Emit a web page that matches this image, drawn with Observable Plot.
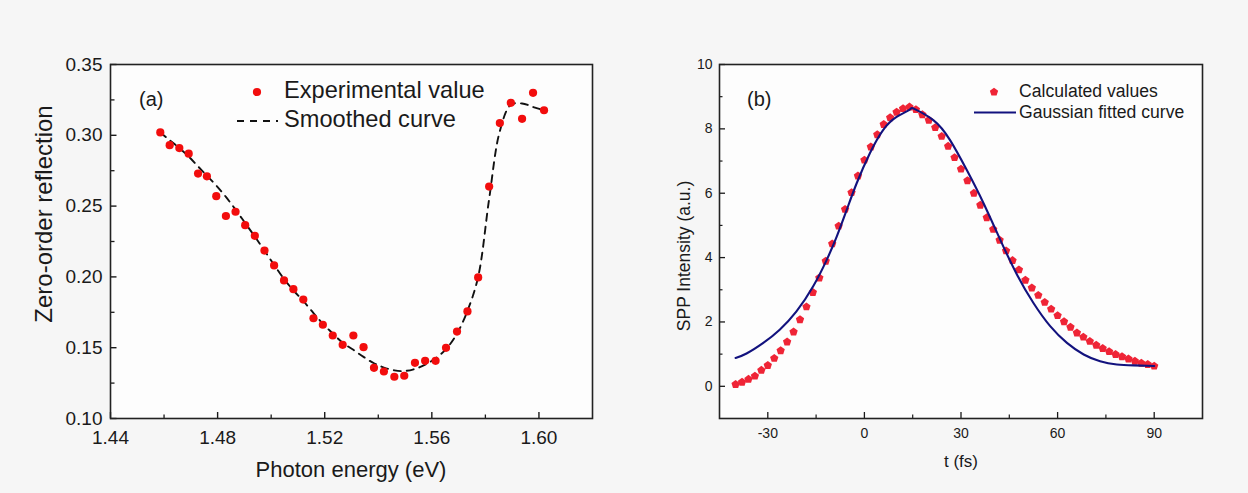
<!DOCTYPE html>
<html><head><meta charset="utf-8">
<script src="https://cdn.jsdelivr.net/npm/d3@7"></script>
<script src="https://cdn.jsdelivr.net/npm/@observablehq/plot@0.6"></script>
<style>
html,body{margin:0;padding:0;background:#f6f6f6;}
#wrap{position:relative;width:1248px;height:493px;overflow:hidden;}
#wrap > div{position:absolute;top:0;}
</style></head><body>
<div id="wrap"><div id="pa" style="left:0"></div><div id="pb" style="left:624px"></div></div>
<script>
// ---------- Panel (a) data ----------
const energy = [1.4586,1.4621,1.4657,1.4692,1.4727,1.4760,1.4795,1.4831,1.4867,1.4903,1.4939,1.4975,1.5011,1.5048,1.5083,1.5120,1.5158,1.5193,1.5230,1.5267,1.5307,1.5345,1.5384,1.5421,1.5460,1.5497,1.5537,1.5575,1.5614,1.5653,1.5694,1.5733,1.5773,1.5814,1.5854,1.5895,1.5937,1.5978,1.6019];
const reflection = [0.302,0.293,0.291,0.287,0.273,0.271,0.257,0.243,0.246,0.2365,0.229,0.2186,0.2081,0.1975,0.1913,0.1840,0.1708,0.1662,0.1586,0.152,0.1586,0.1504,0.1358,0.1332,0.1295,0.1302,0.1393,0.1407,0.1407,0.1499,0.1614,0.1756,0.1996,0.2638,0.3086,0.3229,0.3116,0.330,0.3177];
const smoothed = [0.302,0.2965,0.291,0.285,0.278,0.2715,0.2645,0.2565,0.2475,0.238,0.2285,0.2185,0.2085,0.1985,0.1905,0.1830,0.1745,0.1670,0.1600,0.1535,0.1485,0.1435,0.1390,0.1360,0.1340,0.1335,0.1350,0.1380,0.1425,0.1490,0.1600,0.1760,0.2000,0.2550,0.3030,0.3215,0.3225,0.3200,0.3177];
const xMajorA = [1.44,1.48,1.52,1.56,1.60];
const xMinorA = [1.46,1.50,1.54,1.58];
const yMajorA = [0.10,0.15,0.20,0.25,0.30,0.35];
const yMinorA = [0.125,0.175,0.225,0.275,0.325];

// ---------- Panel (b) data ----------
const tFs = [-40,-38,-36,-34,-32,-30,-28,-26,-24,-22,-20,-18,-16,-14,-12,-10,-8,-6,-4,-2,0,2,4,6,8,10,12,14,16,18,20,22,24,26,28,30,32,34,36,38,40,42,44,46,48,50,52,54,56,58,60,62,64,66,68,70,72,74,76,78,80,82,84,86,88,90];
const sppIntensity = [0.06,0.13,0.22,0.32,0.50,0.65,0.87,1.11,1.38,1.69,2.07,2.47,2.92,3.37,3.89,4.43,4.98,5.50,6.02,6.54,7.03,7.44,7.82,8.14,8.35,8.52,8.63,8.68,8.60,8.44,8.27,8.04,7.77,7.46,7.11,6.75,6.39,6.00,5.63,5.24,4.88,4.54,4.21,3.91,3.62,3.30,3.06,2.83,2.61,2.40,2.20,2.01,1.84,1.66,1.53,1.40,1.28,1.18,1.08,0.99,0.92,0.85,0.78,0.72,0.68,0.63];
const fitT = [-40,-36.6,-31.4,-26.3,-21.1,-15.9,-11.7,-8.6,-5.5,-2.4,1.7,5.8,10,14.1,15.5,21.4,26.6,31.8,37,42.2,47.4,52.5,57.7,62.9,68.1,73.2,78.4,83.6,90];
const fitIntensity = [0.88,1.02,1.35,1.76,2.33,3.11,3.93,4.65,5.48,6.31,7.24,7.96,8.37,8.60,8.62,8.27,7.65,6.72,5.69,4.55,3.47,2.59,1.87,1.35,0.99,0.78,0.68,0.65,0.63];
const xMajorB = [-30,0,30,60,90];
const xMinorB = [-15,15,45,75];
const yMajorB = [0,2,4,6,8,10];
const yMinorB = [1,3,5,7,9];

const FONT = "'Liberation Sans', Arial, Helvetica, sans-serif";
const RED_A = "#f20d0d";
const RED_B = "#ef2436";
const NAVY = "#12127e";
const INK = "#1a1a1a";

const pentagon = {
  draw(ctx, size) {
    const r = Math.sqrt(size / 2.378);
    for (let i = 0; i < 5; i++) {
      const a = -Math.PI / 2 + i * 2 * Math.PI / 5;
      const x = r * Math.cos(a), y = r * Math.sin(a);
      if (i) ctx.lineTo(x, y); else ctx.moveTo(x, y);
    }
    ctx.closePath();
  }
};

function overlay(build) {
  return () => {
    const g = d3.create("svg:g");
    g.attr("font-family", FONT).attr("fill", INK).attr("text-anchor", "start");
    build(g);
    return g.node();
  };
}

const dataA = energy.map((e, i) => ({e, r: reflection[i], s: smoothed[i]}));
const dataB = tFs.map((t, i) => ({t, v: sppIntensity[i]}));
const fitB = fitT.map((t, i) => ({t, v: fitIntensity[i]}));

// ---------- Panel (a) ----------
const plotA = Plot.plot({
  width: 624, height: 493,
  marginLeft: 110, marginRight: 32, marginTop: 64, marginBottom: 75,
  x: {domain: [1.44, 1.62]},
  y: {domain: [0.10, 0.35]},
  style: {fontFamily: FONT, background: "transparent", overflow: "visible", color: INK},
  marks: [
    Plot.frame({fill: "#fdfdfd", stroke: null}),
    Plot.line(dataA, {x: "e", y: "s", stroke: "#111", strokeWidth: 1.9, strokeDasharray: "7,6", curve: "catmull-rom"}),
    Plot.dot(dataA, {x: "e", y: "r", r: 4.1, fill: RED_A, stroke: null}),
    Plot.axisX(xMajorA, {anchor: "bottom", tickSize: -6, tickFormat: () => "", label: null, strokeWidth: 1.4}),
    Plot.axisX(xMinorA, {anchor: "bottom", tickSize: -3.5, tickFormat: () => "", label: null, strokeWidth: 1.3}),
    Plot.axisX(xMajorA, {anchor: "bottom", tickSize: 0, tickPadding: 12, tickFormat: d => d.toFixed(2), fontSize: 19, label: null}),
    Plot.axisY(yMajorA, {anchor: "left", tickSize: -6.5, tickFormat: () => "", label: null, strokeWidth: 1.4}),
    Plot.axisY(yMinorA, {anchor: "left", tickSize: -4.5, tickFormat: () => "", label: null, strokeWidth: 1.3}),
    Plot.axisY(yMajorA, {anchor: "left", tickSize: 0, tickPadding: 8, tickFormat: d => d.toFixed(2), fontSize: 19, label: null}),
    Plot.frame({stroke: "#222", strokeWidth: 1.6}),
    overlay(g => {
      g.append("text").attr("x", 351).attr("y", 477).attr("text-anchor", "middle").attr("font-size", 22).text("Photon energy (eV)");
      g.append("text").attr("transform", "translate(52,214) rotate(-90)").attr("text-anchor", "middle").attr("font-size", 24).text("Zero-order reflection");
      g.append("text").attr("x", 139).attr("y", 106).attr("font-size", 20).text("(a)");
      g.append("circle").attr("cx", 257).attr("cy", 92).attr("r", 4.1).attr("fill", RED_A);
      g.append("text").attr("x", 284).attr("y", 98).attr("font-size", 23.6).text("Experimental value");
      g.append("line").attr("x1", 237).attr("x2", 278).attr("y1", 121).attr("y2", 121)
        .attr("stroke", "#111").attr("stroke-width", 1.9).attr("stroke-dasharray", "7,6");
      g.append("text").attr("x", 284).attr("y", 127).attr("font-size", 23.6).text("Smoothed curve");
    })
  ]
});
document.getElementById("pa").appendChild(plotA);

// ---------- Panel (b) ----------
const OX = 624;
const plotB = Plot.plot({
  width: 624, height: 493,
  marginLeft: 95, marginRight: 46, marginTop: 64, marginBottom: 75,
  x: {domain: [-45, 105]},
  y: {domain: [-1, 10]},
  style: {fontFamily: FONT, background: "transparent", overflow: "visible", color: INK},
  marks: [
    Plot.frame({fill: "#fdfdfd", stroke: null}),
    Plot.dot(dataB, {x: "t", y: "v", r: 3.8, symbol: pentagon, fill: RED_B, stroke: null}),
    Plot.line(fitB, {x: "t", y: "v", stroke: NAVY, strokeWidth: 2.1, curve: "natural"}),
    Plot.axisX(xMajorB, {anchor: "bottom", tickSize: -6, tickFormat: () => "", label: null, strokeWidth: 1.3}),
    Plot.axisX(xMinorB, {anchor: "bottom", tickSize: -3.5, tickFormat: () => "", label: null, strokeWidth: 1.2}),
    Plot.axisX(xMajorB, {anchor: "bottom", tickSize: 0, tickPadding: 10, tickFormat: d => String(d), fontSize: 14, label: null}),
    Plot.axisY(yMajorB, {anchor: "left", tickSize: -6, tickFormat: () => "", label: null, strokeWidth: 1.3}),
    Plot.axisY(yMinorB, {anchor: "left", tickSize: -3.5, tickFormat: () => "", label: null, strokeWidth: 1.2}),
    Plot.axisY(yMajorB, {anchor: "left", tickSize: 0, tickPadding: 7, tickFormat: d => String(d), fontSize: 14, label: null}),
    Plot.frame({stroke: "#222", strokeWidth: 1.6}),
    overlay(g => {
      g.append("text").attr("x", 961 - OX).attr("y", 467).attr("text-anchor", "middle").attr("font-size", 17).text("t (fs)");
      g.append("text").attr("transform", `translate(${690 - OX},256) rotate(-90)`).attr("text-anchor", "middle").attr("font-size", 17.5).text("SPP Intensity (a.u.)");
      g.append("text").attr("x", 747 - OX).attr("y", 106).attr("font-size", 20).text("(b)");
      g.append("path").attr("transform", `translate(${994 - OX},92)`).attr("d", d3.symbol(pentagon, Math.PI * 3.8 * 3.8)()).attr("fill", RED_B);
      g.append("text").attr("x", 1019 - OX).attr("y", 97).attr("font-size", 17.6).text("Calculated values");
      g.append("line").attr("x1", 974 - OX).attr("x2", 1016 - OX).attr("y1", 112.5).attr("y2", 112.5)
        .attr("stroke", NAVY).attr("stroke-width", 2.1);
      g.append("text").attr("x", 1019 - OX).attr("y", 118).attr("font-size", 17.6).text("Gaussian fitted curve");
    })
  ]
});
document.getElementById("pb").appendChild(plotB);
</script>
</body></html>
